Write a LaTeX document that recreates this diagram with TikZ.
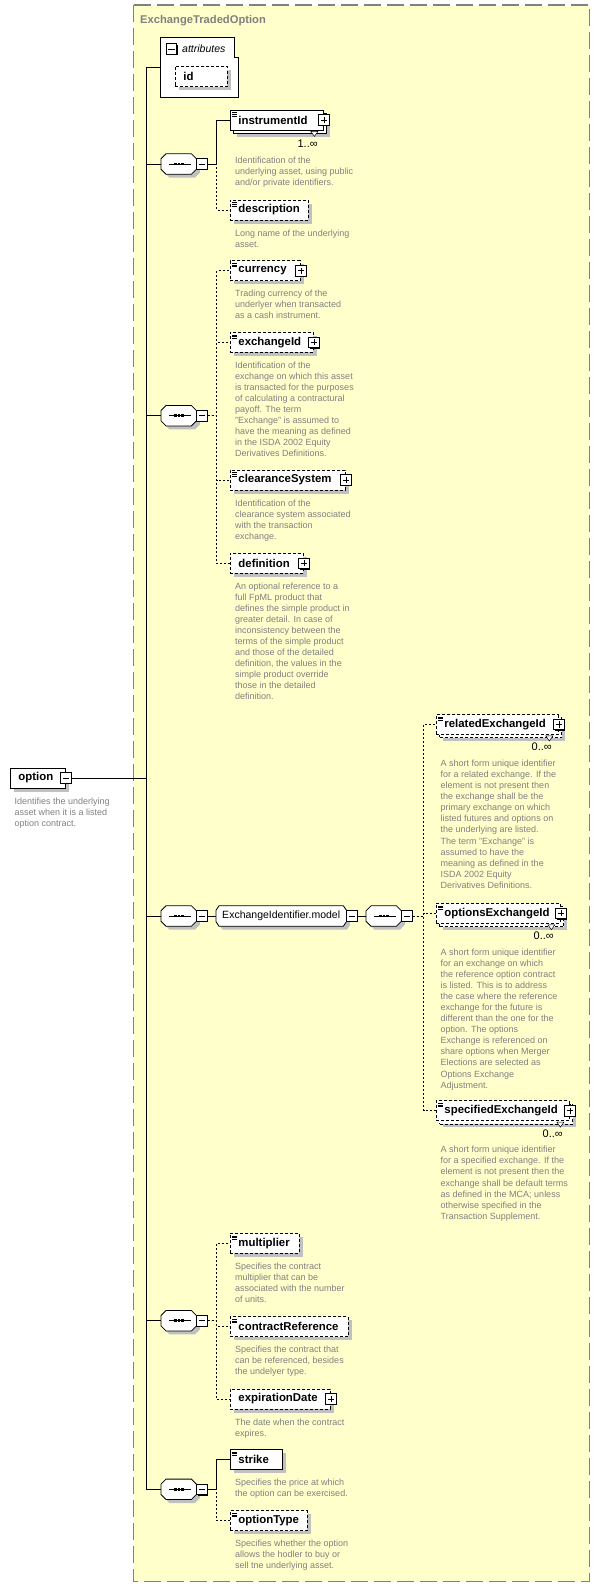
\documentclass[tikz,border=0pt]{standalone}
\usepackage{fontspec}
\setmainfont{Liberation Sans}
\usetikzlibrary{positioning,shadows}
\definecolor{panel}{RGB}{255,255,204}
\definecolor{framegray}{RGB}{128,128,128}
\definecolor{docgray}{RGB}{128,128,128}
\definecolor{shade}{RGB}{192,192,192}
\newcommand{\octagonframe}[3]{%
  \draw[line width=0.8pt, fill=white, general shadow={fill=shade, draw=none, shadow xshift=3.5pt, shadow yshift=-3.5pt}]
    ([xshift=#2]#1.north west) -- ([xshift=-#2]#1.north east) -- ([yshift=-#3]#1.north east) -- ([yshift=#3]#1.south east)
    -- ([xshift=-#2]#1.south east) -- ([xshift=#2]#1.south west) -- ([yshift=#3]#1.south west) -- ([yshift=-#3]#1.north west) -- cycle;}
\begin{document}
\begin{tikzpicture}[x=1pt, y=-1pt,
    conn/.style={line width=0.9pt},
    optconn/.style={line width=0.9pt, dash pattern=on 2pt off 2pt},
    elem/.style={draw, fill=white, line width=0.9pt, anchor=west, minimum height=20pt, inner xsep=8pt, inner ysep=0pt, text width=#1, align=left, font=\fontsize{11.4}{13}\selectfont\bfseries},
    optional/.style={dash pattern=on 3pt off 2pt},
    shadowed/.style={general shadow={fill=shade, draw=none, shadow xshift=3.5pt, shadow yshift=-3.5pt}},
    stacked/.style={general shadow={fill=shade, draw=none, shadow xshift=6.7pt, shadow yshift=-6.7pt}, general shadow={fill=white, draw=black, shadow xshift=3.3pt, shadow yshift=-3.3pt}},
    typed/.style={path picture={\foreach \k in {0,1,2} \draw[line width=0.6pt, solid] ([xshift=2pt, yshift=-2.5pt-\k*1.7pt]path picture bounding box.north west) -- ++(5pt,0);}},
    toggle/.style={draw, fill=white, line width=0.8pt, solid, minimum size=10.5pt, inner sep=0pt, general shadow={fill=black, draw=none, shadow xshift=1pt, shadow yshift=-1pt}},
    minusbox/.style={toggle, path picture={\draw[line width=0.8pt] ([xshift=2.2pt]path picture bounding box.west) -- ([xshift=-2.2pt]path picture bounding box.east);}},
    plusbox/.style={toggle, path picture={\draw[line width=0.8pt] ([xshift=2.2pt]path picture bounding box.west) -- ([xshift=-2.2pt]path picture bounding box.east) ([yshift=-2.2pt]path picture bounding box.north) -- ([yshift=2.2pt]path picture bounding box.south);}},
    seq/.style={minimum width=35pt, minimum height=20pt, inner sep=0pt, anchor=west},
    doc/.style={align=left, inner sep=0pt, text=docgray, font=\fontsize{9}{11.05}\selectfont},
    mult/.style={inner sep=0pt, font=\fontsize{11}{13}\selectfont},
    vee/.style={draw, fill=white, line width=0.5pt}]
\useasboundingbox (0,0) rectangle (600,1587);
\draw[framegray, fill=panel, line width=1.3pt, dash pattern=on 17pt off 6pt] (133.5,5) rectangle (589.5,1581.5);
\node[anchor=base west, inner sep=0pt, text=framegray, font=\fontsize{11.2}{13}\selectfont\bfseries] (title) at (140,23.3) {ExchangeTradedOption};

\node[minimum width=77pt, minimum height=59pt, inner sep=0pt] (attrs) at (199.5,67.5) {};
\draw[line width=0.9pt, fill=white] (attrs.north west) -- ([xshift=-4pt]attrs.north east) |- ([yshift=-20pt]attrs.north east) -- (attrs.south east) -- (attrs.south west) -- cycle;
\node[minusbox] (attrs-m) at (171.5,49) {};
\node[anchor=base west, inner sep=0pt, font=\fontsize{10.5}{12}\selectfont\itshape] (attrs-l) at (182,52.3) {attributes};
\node[elem=36pt, optional, shadowed] (id) at (175,76.5) {id};

\node[elem=39pt, shadowed] (option) at (10,778) {option};
\node[minusbox] (option-m) at (option.east) {};
\node[doc, below right=9pt and 4.5pt of option.south west] (option-d) {Identifies the underlying\\asset when it is a listed\\option contract.};

\foreach \s/\x/\y in {s1/161/164, s2/161/415.7, s3/161/916, s4/366/916, s5/161/1320.7, s6/161/1489.3} {
    \node[seq] (\s) at (\x,\y) {};
    \octagonframe{\s}{5pt}{5pt}
    \draw[line width=0.9pt] ([xshift=8pt]\s.west) -- ([xshift=-5pt]\s.east);
    \foreach \d in {-4.5,-1,2.5}
        \fill ([xshift=\d*1pt, yshift=-1.3pt]\s.center) rectangle ++(2.6pt,2.6pt);
    \node[minusbox, anchor=west] (\s-m) at (\s.east) {};
}
\node[seq, minimum width=130pt] (model) at (216,916) {};
\octagonframe{model}{3pt}{4.5pt}
\node[inner sep=0pt, font=\fontsize{10.5}{12}\selectfont] (model-l) at (model.center) {ExchangeIdentifier.model};
\node[minusbox, anchor=west] (model-m) at (model.east) {};

\node[elem=77pt, stacked, typed] (instrumentId) at (230,120) {instrumentId};
\draw[vee] ([xshift=-13pt, yshift=-1pt]instrumentId.south east) -- ++(7pt,0) -- ++(-3.5pt,-5pt) -- cycle;
\node[plusbox] (instrumentId-x) at (instrumentId.east) {};
\node[mult, below left=9pt and 6pt of instrumentId.south east] (instrumentId-n) {1..∞};
\node[doc, below right=26pt and 5pt of instrumentId.south west] (instrumentId-d) {Identification of the\\underlying asset, using public\\and/or private identifiers.};
\node[elem=62pt, optional, shadowed, typed] (description) at (230,210) {description};
\node[doc, below right=9pt and 5pt of description.south west] (description-d) {Long name of the underlying\\asset.};

\node[elem=54pt, optional, shadowed, typed] (currency) at (230,270.7) {currency};
\node[plusbox] (currency-x) at (currency.east) {};
\node[doc, below right=9pt and 5pt of currency.south west] (currency-d) {Trading currency of the\\underlyer when transacted\\as a cash instrument.};
\node[elem=67pt, optional, shadowed, typed] (exchangeId) at (230,342.3) {exchangeId};
\node[plusbox] (exchangeId-x) at (exchangeId.east) {};
\node[doc, below right=9pt and 5pt of exchangeId.south west] (exchangeId-d) {Identification of the\\exchange on which this asset\\is transacted for the purposes\\of calculating a contractural\\payoff. The term\\"Exchange" is assumed to\\have the meaning as defined\\in the ISDA 2002 Equity\\Derivatives Definitions.};
\node[elem=99pt, optional, shadowed, typed] (clearanceSystem) at (230,480) {clearanceSystem};
\node[plusbox] (clearanceSystem-x) at (clearanceSystem.east) {};
\node[doc, below right=9pt and 5pt of clearanceSystem.south west] (clearanceSystem-d) {Identification of the\\clearance system associated\\with the transaction\\exchange.};
\node[elem=57pt, optional, shadowed] (definition) at (230,563.3) {definition};
\node[plusbox] (definition-x) at (definition.east) {};
\node[doc, below right=9pt and 5pt of definition.south west] (definition-d) {An optional reference to a\\full FpML product that\\defines the simple product in\\greater detail. In case of\\inconsistency between the\\terms of the simple product\\and those of the detailed\\definition, the values in the\\simple product override\\those in the detailed\\definition.};

\node[elem=106pt, optional, stacked, typed] (relatedExchangeId) at (436,724.5) {relatedExchangeId};
\draw[vee] ([xshift=-13pt, yshift=-1pt]relatedExchangeId.south east) -- ++(7pt,0) -- ++(-3.5pt,-5pt) -- cycle;
\node[plusbox] (relatedExchangeId-x) at (relatedExchangeId.east) {};
\node[mult, below left=8pt and 7pt of relatedExchangeId.south east] (relatedExchangeId-n) {0..∞};
\node[doc, below right=25pt and 4.5pt of relatedExchangeId.south west] (relatedExchangeId-d) {A short form unique identifier\\for a related exchange. If the\\element is not present then\\the exchange shall be the\\primary exchange on which\\listed futures and options on\\the underlying are listed.\\The term "Exchange" is\\assumed to have the\\meaning as defined in the\\ISDA 2002 Equity\\Derivatives Definitions.};
\node[elem=108pt, optional, stacked, typed] (optionsExchangeId) at (436,913.3) {optionsExchangeId};
\draw[vee] ([xshift=-13pt, yshift=-1pt]optionsExchangeId.south east) -- ++(7pt,0) -- ++(-3.5pt,-5pt) -- cycle;
\node[plusbox] (optionsExchangeId-x) at (optionsExchangeId.east) {};
\node[mult, below left=8pt and 7pt of optionsExchangeId.south east] (optionsExchangeId-n) {0..∞};
\node[doc, below right=25pt and 4.5pt of optionsExchangeId.south west] (optionsExchangeId-d) {A short form unique identifier\\for an exchange on which\\the reference option contract\\is listed. This is to address\\the case where the reference\\exchange for the future is\\different than the one for the\\option. The options\\Exchange is referenced on\\share options when Merger\\Elections are selected as\\Options Exchange\\Adjustment.};
\node[elem=117pt, optional, stacked, typed] (specifiedExchangeId) at (436,1110.7) {specifiedExchangeId};
\draw[vee] ([xshift=-13pt, yshift=-1pt]specifiedExchangeId.south east) -- ++(7pt,0) -- ++(-3.5pt,-5pt) -- cycle;
\node[plusbox] (specifiedExchangeId-x) at (specifiedExchangeId.east) {};
\node[mult, below left=8pt and 7pt of specifiedExchangeId.south east] (specifiedExchangeId-n) {0..∞};
\node[doc, below right=25pt and 4.5pt of specifiedExchangeId.south west] (specifiedExchangeId-d) {A short form unique identifier\\for a specified exchange. If the\\element is not present then the\\exchange shall be default terms\\as defined in the MCA; unless\\otherwise specified in the\\Transaction Supplement.};

\node[elem=53pt, optional, shadowed, typed] (multiplier) at (230,1243.3) {multiplier};
\node[doc, below right=9pt and 5pt of multiplier.south west] (multiplier-d) {Specifies the contract\\multiplier that can be\\associated with the number\\of units.};
\node[elem=102pt, optional, shadowed, typed] (contractReference) at (230,1326.7) {contractReference};
\node[doc, below right=9pt and 5pt of contractReference.south west] (contractReference-d) {Specifies the contract that\\can be referenced, besides\\the undelyer type.};
\node[elem=84pt, optional, shadowed] (expirationDate) at (230,1399) {expirationDate};
\node[plusbox] (expirationDate-x) at (expirationDate.east) {};
\node[doc, below right=9pt and 5pt of expirationDate.south west] (expirationDate-d) {The date when the contract\\expires.};

\node[elem=36pt, shadowed, typed] (strike) at (230,1459.3) {strike};
\node[doc, below right=9pt and 5pt of strike.south west] (strike-d) {Specifies the price at which\\the option can be exercised.};
\node[elem=61pt, optional, shadowed, typed] (optionType) at (230,1520.7) {optionType};
\node[doc, below right=9pt and 5pt of optionType.south west] (optionType-d) {Specifies whether the option\\allows the hodler to buy or\\sell tne underlying asset.};

\coordinate (trunk) at (146.5,778);
\draw[conn] (option-m.east) -- (trunk);
\draw[conn] (trunk) |- (attrs.west);
\foreach \s in {s1,s2,s3,s5,s6}
    \draw[conn] (trunk) |- (\s.west);
\draw[conn] (s1-m.east) -- ++(9pt,0) |- (instrumentId.west);
\draw[optconn] (s1-m.east) -- ++(9pt,0) |- (description.west);
\foreach \e in {currency,exchangeId,clearanceSystem,definition}
    \draw[optconn] (s2-m.east) -- ++(9pt,0) |- (\e.west);
\draw[conn] (s3-m.east) -- (model.west);
\draw[conn] (model-m.east) -- (s4.west);
\foreach \e in {relatedExchangeId,optionsExchangeId,specifiedExchangeId}
    \draw[optconn] (s4-m.east) -- ++(11pt,0) |- (\e.west);
\foreach \e in {multiplier,contractReference,expirationDate}
    \draw[optconn] (s5-m.east) -- ++(9pt,0) |- (\e.west);
\draw[conn] (s6-m.east) -- ++(9pt,0) |- (strike.west);
\draw[optconn] (s6-m.east) -- ++(9pt,0) |- (optionType.west);
\end{tikzpicture}
\end{document}
